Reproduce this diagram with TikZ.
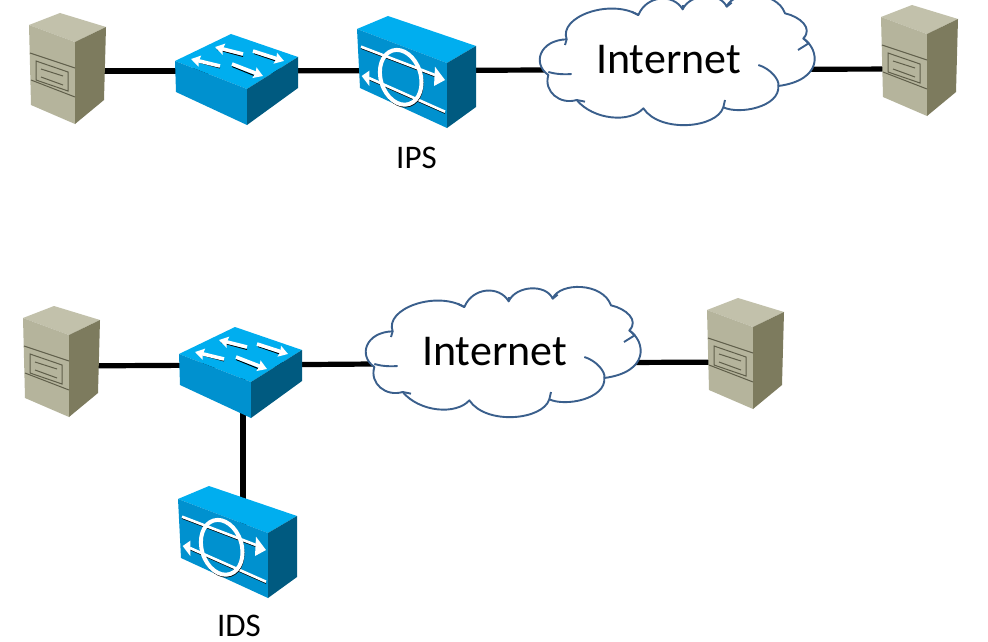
\documentclass[tikz,border=0pt]{standalone}
\usepackage{fontspec}
\setmainfont{Carlito}
\usetikzlibrary{arrows.meta}
\definecolor{blTop}{HTML}{00AEEF}
\definecolor{blFront}{HTML}{0091CF}
\definecolor{blSide}{HTML}{005A80}
\definecolor{srvTop}{HTML}{C2C1AB}
\definecolor{srvFront}{HTML}{B5B49C}
\definecolor{srvSide}{HTML}{7D7B5E}
\definecolor{srvLine}{HTML}{5F5E4A}
\definecolor{cloudEdge}{HTML}{3A5F8C}
\tikzset{
  x=1pt,y=-1pt,
  anchorpt/.style={inner sep=0pt,minimum size=0pt},
  conn/.style={line width=5.2pt,black},
  devlabel/.style={font=\fontsize{33}{36}\selectfont,black,inner sep=0pt},
  cloudtext/.style={font=\fontsize{44}{48}\selectfont,black,inner sep=0pt},
  whiteline/.style={white,line width=2.6pt},
  shadowline/.style={black,line width=2.6pt},
  swarrow/.style={white,line width=3.6pt,-{Stealth[length=9pt,width=11pt,inset=1pt]}},
  pics/serverbox/.style={code={
    \fill[srvTop] (29,25) -- (60,13) -- (106,27) -- (75,42) -- cycle;
    \fill[srvFront] (29,25) -- (75,42) -- (75,124) -- (31,105) -- cycle;
    \fill[srvSide] (75,42) -- (106,27) -- (104,100) -- (75,124) -- cycle;
    \draw[srvLine,line width=1pt] (30,53) -- (75,68) (31,80) -- (75,97);
    \draw[srvLine,line width=1pt] (36,61) -- (68,72) -- (68,91) -- (36,80) -- cycle;
    \draw[srvLine,line width=1pt] (41,69) -- (63,76) (41,77) -- (63,85);
  }},
  pics/switchbox/.style={code={
    \fill[blTop] (175,61) -- (231,34) -- (298,57) -- (247,89) -- cycle;
    \fill[blFront] (175,61) -- (247,89) -- (247,125) -- (176,92) -- cycle;
    \fill[blSide] (247,89) -- (298,57) -- (298,88) -- (247,125) -- cycle;
    \draw[black,line width=1pt] (243,56.5) -- (217,49.5) (254,53.5) -- (276,61) (220,68) -- (196,61.5) (232,66.5) -- (254,75.5);
    \draw[swarrow] (243,54) -- (215,47);
    \draw[swarrow] (253,51) -- (284,61);
    \draw[swarrow] (220,66) -- (191,59);
    \draw[swarrow] (232,64) -- (263,76);
  }},
  pics/inlinebox/.style={code={
    \fill[blTop] (357,29) -- (388,16) -- (476,46) -- (447,63) -- cycle;
    \fill[blFront] (357,29) -- (447,63) -- (447,128) -- (360,88) -- cycle;
    \fill[blSide] (447,63) -- (476,46) -- (476,107) -- (447,128) -- cycle;
    \draw[shadowline,line width=1pt] (361,48.3) -- (435,76.6) (369,79.6) -- (445,113.3);
    \draw[whiteline] (361,46.7) -- (435,75);
    \draw[whiteline] (369,78) -- (445,111.7);
    \fill[white] (435,66.7) -- (445,80) -- (434,86) -- cycle;
    \fill[white] (361.7,76) -- (369.3,70.7) -- (369.3,86) -- cycle;
    \draw[black,line width=1pt,rotate around={17:(401.2,78.6)}] (401.2,78.6) circle[x radius=21,y radius=29];
    \draw[white,line width=4pt,rotate around={17:(400.7,77.3)}] (400.7,77.3) circle[x radius=20,y radius=28];
  }},
  pics/cloudshape/.style={code={
    \begin{scope}[shift={(530,0)},scale=0.33333,line width=1.9pt,draw=cloudEdge,line join=round]
      \filldraw[fill=white] (110,118)
        .. controls (85,50) and (240,-5) .. (325,45)
        .. controls (350,-15) and (430,-20) .. (458,28)
        .. controls (480,-20) and (570,-25) .. (590,20)
        .. controls (610,-30) and (740,-30) .. (765,40)
        .. controls (810,50) and (850,85) .. (820,115)
        .. controls (870,150) and (880,240) .. (745,258)
        .. controls (750,320) and (630,345) .. (580,322)
        .. controls (560,385) and (390,400) .. (340,325)
        .. controls (300,370) and (190,360) .. (140,300)
        .. controls (90,315) and (40,275) .. (55,225)
        .. controls (5,190) and (30,120) .. (110,118) -- cycle;
      \draw (55,216) .. controls (75,222) and (100,224) .. (125,222);
      \draw (110,118) -- (105,135);
      \draw (325,45) -- (305,35);
      \draw (458,28) -- (458,15);
      \draw (590,20) -- (605,8);
      \draw (820,115) -- (836,130) -- (804,150);
      \draw (685,195) .. controls (720,205) and (750,240) .. (745,258);
      \draw (140,300) -- (165,305);
      \draw (580,322) -- (585,300);
    \end{scope}
  }}
}
\begin{document}
\begin{tikzpicture}
\path[use as bounding box] (0,0) rectangle (988,642);
\clip (0,0) rectangle (988,642);
\fill[white] (0,0) rectangle (988,642);
% connection points of the devices
\node[anchorpt] (srvA) at (67,71) {};
\node[anchorpt] (swA) at (237,71) {};
\node[anchorpt] (ipsdev) at (416,70.5) {};
\node[anchorpt] (cloudA) at (678,69.5) {};
\node[anchorpt] (srvB) at (920,69) {};
\node[anchorpt] (srvC) at (62,366) {};
\node[anchorpt] (swB) at (243,365) {};
\node[anchorpt] (cloudB) at (504,363) {};
\node[anchorpt] (srvD) at (745,362) {};
\node[anchorpt] (idsdev) at (243,550) {};
% connectors
\draw[conn] (srvA) -- (swA);
\draw[conn] (swA) -- (ipsdev);
\draw[conn] (ipsdev) -- (cloudA);
\draw[conn] (cloudA) -- (srvB);
\draw[conn] (srvC) -- (swB);
\draw[conn] (swB) -- (cloudB);
\draw[conn] (cloudB) -- (srvD);
\draw[conn] (swB) -- (idsdev);
% devices
\pic at (0,0) {serverbox};
\pic at (852,-8) {serverbox};
\pic at (-6,293) {serverbox};
\pic at (678,285) {serverbox};
\pic at (0,0) {switchbox};
\pic at (4,293) {switchbox};
\pic at (0,0) {inlinebox};
\pic at (-179,470) {inlinebox};
\pic at (0,0) {cloudshape};
\pic at (-174,292) {cloudshape};
% labels
\node[cloudtext] (inetA) at (668.5,60) {Internet};
\node[cloudtext] (inetB) at (494.5,352) {Internet};
\node[devlabel] (ipslabel) at (416.5,158) {IPS};
\node[devlabel] (idslabel) at (239,626) {IDS};
\end{tikzpicture}
\end{document}
